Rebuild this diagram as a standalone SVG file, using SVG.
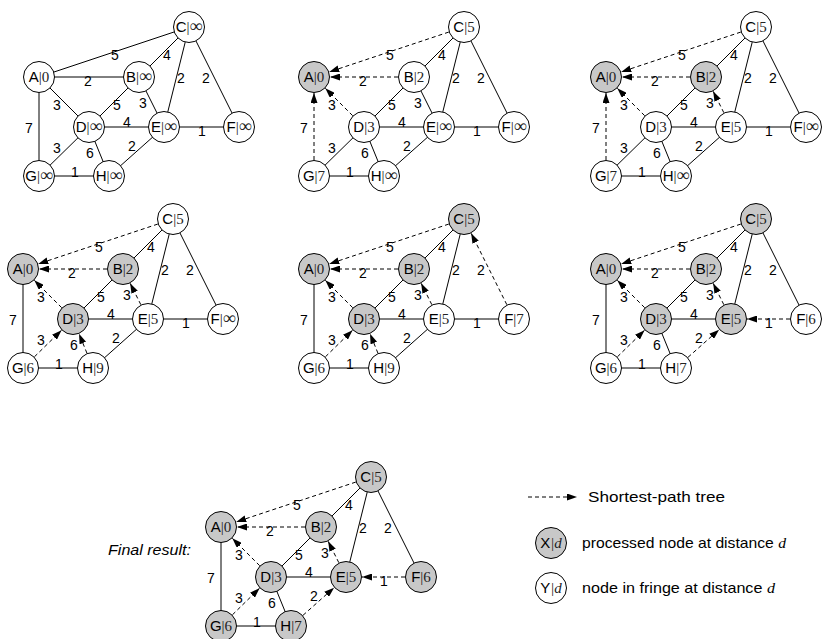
<svg xmlns="http://www.w3.org/2000/svg" width="823" height="639" viewBox="0 0 823 639">
<defs>
<marker id="ah" markerUnits="userSpaceOnUse" markerWidth="10" markerHeight="7" refX="10" refY="3.5" orient="auto"><path d="M0,0 L10,3.5 L0,7 z" fill="#000"/></marker>
<style>
.e{stroke:#000;stroke-width:1;fill:none}
.t{stroke:#000;stroke-width:1;fill:none;stroke-dasharray:4 3;marker-end:url(#ah)}
.n circle{stroke:#000;stroke-width:1;fill:#fff}
.p circle{fill:#c8c8c8}
.n text{font-family:"Liberation Sans",Arial,sans-serif;font-size:15px;text-anchor:middle;fill:#000}
.v{font-family:"Liberation Serif","DejaVu Serif",serif;fill:#222}
.inf{font-size:18px}
.w{font-family:"Liberation Sans",Arial,sans-serif;font-size:14px;text-anchor:middle;fill:#000}
.lg{font-family:"Liberation Sans",Arial,sans-serif;font-size:15px;fill:#000}
.mi{font-family:"Liberation Serif","DejaVu Serif",serif;font-style:italic}
</style>
</defs>
<rect width="823" height="639" fill="#fff"/>

<!-- Step 1 -->
<g id="step1" transform="translate(0,0)">
<g id="s1-connectors">
<path class="e" d="M39,77L189,27 M39,77L139,77 M189,27L139,77 M189,27L164,127 M189,27L239,127 M39,77L89,127 M139,77L89,127 M139,77L164,127 M39,77L39,176 M89,127L164,127 M164,127L239,127 M89,127L39,176 M89,127L109,176 M164,127L109,176 M39,176L109,176"/>
<text class="w" x="115" y="60">5</text><text class="w" x="88" y="86">2</text><text class="w" x="167" y="60">4</text><text class="w" x="181" y="83">2</text><text class="w" x="206" y="83">2</text><text class="w" x="57" y="110">3</text><text class="w" x="117" y="110">5</text><text class="w" x="143" y="108">3</text><text class="w" x="29" y="133">7</text><text class="w" x="127" y="127">4</text><text class="w" x="202" y="136">1</text><text class="w" x="57" y="153">3</text><text class="w" x="90" y="158">6</text><text class="w" x="132" y="151">2</text><text class="w" x="75" y="177">1</text>
</g>
<g id="s1-A" class="n"><circle cx="39" cy="77" r="15.5"/><text x="39" y="82">A<tspan class="v">|0</tspan></text></g>
<g id="s1-B" class="n"><circle cx="139" cy="77" r="15.5"/><text x="139" y="82">B<tspan class="v">|<tspan class="inf">∞</tspan></tspan></text></g>
<g id="s1-C" class="n"><circle cx="189" cy="27" r="15.5"/><text x="189" y="32">C<tspan class="v">|<tspan class="inf">∞</tspan></tspan></text></g>
<g id="s1-D" class="n"><circle cx="89" cy="127" r="15.5"/><text x="89" y="132">D<tspan class="v">|<tspan class="inf">∞</tspan></tspan></text></g>
<g id="s1-E" class="n"><circle cx="164" cy="127" r="15.5"/><text x="164" y="132">E<tspan class="v">|<tspan class="inf">∞</tspan></tspan></text></g>
<g id="s1-F" class="n"><circle cx="239" cy="127" r="15.5"/><text x="239" y="132">F<tspan class="v">|<tspan class="inf">∞</tspan></tspan></text></g>
<g id="s1-G" class="n"><circle cx="39" cy="176" r="15.5"/><text x="39" y="181">G<tspan class="v">|<tspan class="inf">∞</tspan></tspan></text></g>
<g id="s1-H" class="n"><circle cx="109" cy="176" r="15.5"/><text x="109" y="181">H<tspan class="v">|<tspan class="inf">∞</tspan></tspan></text></g>
</g>

<!-- Step 2 -->
<g id="step2" transform="translate(275,0)">
<g id="s2-connectors">
<path class="e" d="M189,27L139,77 M189,27L164,127 M189,27L239,127 M139,77L89,127 M139,77L164,127 M89,127L164,127 M164,127L239,127 M89,127L39,176 M89,127L109,176 M164,127L109,176 M39,176L109,176"/>
<path class="t" d="M173.82,32.06L54.18,71.94"/><path class="t" d="M123,77L55,77"/><path class="t" d="M77.69,115.69L50.31,88.31"/><path class="t" d="M39,160L39,93"/>
<text class="w" x="115" y="60">5</text><text class="w" x="88" y="86">2</text><text class="w" x="167" y="60">4</text><text class="w" x="181" y="83">2</text><text class="w" x="206" y="83">2</text><text class="w" x="57" y="110">3</text><text class="w" x="117" y="110">5</text><text class="w" x="143" y="108">3</text><text class="w" x="29" y="133">7</text><text class="w" x="127" y="127">4</text><text class="w" x="202" y="136">1</text><text class="w" x="57" y="153">3</text><text class="w" x="90" y="158">6</text><text class="w" x="132" y="151">2</text><text class="w" x="75" y="177">1</text>
</g>
<g id="s2-A" class="n p"><circle cx="39" cy="77" r="15.5"/><text x="39" y="82">A<tspan class="v">|0</tspan></text></g>
<g id="s2-B" class="n"><circle cx="139" cy="77" r="15.5"/><text x="139" y="82">B<tspan class="v">|2</tspan></text></g>
<g id="s2-C" class="n"><circle cx="189" cy="27" r="15.5"/><text x="189" y="32">C<tspan class="v">|5</tspan></text></g>
<g id="s2-D" class="n"><circle cx="89" cy="127" r="15.5"/><text x="89" y="132">D<tspan class="v">|3</tspan></text></g>
<g id="s2-E" class="n"><circle cx="164" cy="127" r="15.5"/><text x="164" y="132">E<tspan class="v">|<tspan class="inf">∞</tspan></tspan></text></g>
<g id="s2-F" class="n"><circle cx="239" cy="127" r="15.5"/><text x="239" y="132">F<tspan class="v">|<tspan class="inf">∞</tspan></tspan></text></g>
<g id="s2-G" class="n"><circle cx="39" cy="176" r="15.5"/><text x="39" y="181">G<tspan class="v">|7</tspan></text></g>
<g id="s2-H" class="n"><circle cx="109" cy="176" r="15.5"/><text x="109" y="181">H<tspan class="v">|<tspan class="inf">∞</tspan></tspan></text></g>
</g>

<!-- Step 3 -->
<g id="step3" transform="translate(567,0)">
<g id="s3-connectors">
<path class="e" d="M189,27L139,77 M189,27L164,127 M189,27L239,127 M139,77L89,127 M89,127L164,127 M164,127L239,127 M89,127L39,176 M89,127L109,176 M164,127L109,176 M39,176L109,176"/>
<path class="t" d="M173.82,32.06L54.18,71.94"/><path class="t" d="M123,77L55,77"/><path class="t" d="M77.69,115.69L50.31,88.31"/><path class="t" d="M39,160L39,93"/><path class="t" d="M156.84,112.69L146.16,91.31"/>
<text class="w" x="115" y="60">5</text><text class="w" x="88" y="86">2</text><text class="w" x="167" y="60">4</text><text class="w" x="181" y="83">2</text><text class="w" x="206" y="83">2</text><text class="w" x="57" y="110">3</text><text class="w" x="117" y="110">5</text><text class="w" x="143" y="108">3</text><text class="w" x="29" y="133">7</text><text class="w" x="127" y="127">4</text><text class="w" x="202" y="136">1</text><text class="w" x="57" y="153">3</text><text class="w" x="90" y="158">6</text><text class="w" x="132" y="151">2</text><text class="w" x="75" y="177">1</text>
</g>
<g id="s3-A" class="n p"><circle cx="39" cy="77" r="15.5"/><text x="39" y="82">A<tspan class="v">|0</tspan></text></g>
<g id="s3-B" class="n p"><circle cx="139" cy="77" r="15.5"/><text x="139" y="82">B<tspan class="v">|2</tspan></text></g>
<g id="s3-C" class="n"><circle cx="189" cy="27" r="15.5"/><text x="189" y="32">C<tspan class="v">|5</tspan></text></g>
<g id="s3-D" class="n"><circle cx="89" cy="127" r="15.5"/><text x="89" y="132">D<tspan class="v">|3</tspan></text></g>
<g id="s3-E" class="n"><circle cx="164" cy="127" r="15.5"/><text x="164" y="132">E<tspan class="v">|5</tspan></text></g>
<g id="s3-F" class="n"><circle cx="239" cy="127" r="15.5"/><text x="239" y="132">F<tspan class="v">|<tspan class="inf">∞</tspan></tspan></text></g>
<g id="s3-G" class="n"><circle cx="39" cy="176" r="15.5"/><text x="39" y="181">G<tspan class="v">|7</tspan></text></g>
<g id="s3-H" class="n"><circle cx="109" cy="176" r="15.5"/><text x="109" y="181">H<tspan class="v">|<tspan class="inf">∞</tspan></tspan></text></g>
</g>

<!-- Step 4 -->
<g id="step4" transform="translate(-16,192)">
<g id="s4-connectors">
<path class="e" d="M189,27L139,77 M189,27L164,127 M189,27L239,127 M139,77L89,127 M39,77L39,176 M89,127L164,127 M164,127L239,127 M164,127L109,176 M39,176L109,176"/>
<path class="t" d="M173.82,32.06L54.18,71.94"/><path class="t" d="M123,77L55,77"/><path class="t" d="M77.69,115.69L50.31,88.31"/><path class="t" d="M156.84,112.69L146.16,91.31"/><path class="t" d="M50.43,164.8L77.57,138.2"/><path class="t" d="M102.95,161.19L95.05,141.81"/>
<text class="w" x="115" y="60">5</text><text class="w" x="88" y="86">2</text><text class="w" x="167" y="60">4</text><text class="w" x="181" y="83">2</text><text class="w" x="206" y="83">2</text><text class="w" x="57" y="110">3</text><text class="w" x="117" y="110">5</text><text class="w" x="143" y="108">3</text><text class="w" x="29" y="133">7</text><text class="w" x="127" y="127">4</text><text class="w" x="202" y="136">1</text><text class="w" x="57" y="153">3</text><text class="w" x="90" y="158">6</text><text class="w" x="132" y="151">2</text><text class="w" x="75" y="177">1</text>
</g>
<g id="s4-A" class="n p"><circle cx="39" cy="77" r="15.5"/><text x="39" y="82">A<tspan class="v">|0</tspan></text></g>
<g id="s4-B" class="n p"><circle cx="139" cy="77" r="15.5"/><text x="139" y="82">B<tspan class="v">|2</tspan></text></g>
<g id="s4-C" class="n"><circle cx="189" cy="27" r="15.5"/><text x="189" y="32">C<tspan class="v">|5</tspan></text></g>
<g id="s4-D" class="n p"><circle cx="89" cy="127" r="15.5"/><text x="89" y="132">D<tspan class="v">|3</tspan></text></g>
<g id="s4-E" class="n"><circle cx="164" cy="127" r="15.5"/><text x="164" y="132">E<tspan class="v">|5</tspan></text></g>
<g id="s4-F" class="n"><circle cx="239" cy="127" r="15.5"/><text x="239" y="132">F<tspan class="v">|<tspan class="inf">∞</tspan></tspan></text></g>
<g id="s4-G" class="n"><circle cx="39" cy="176" r="15.5"/><text x="39" y="181">G<tspan class="v">|6</tspan></text></g>
<g id="s4-H" class="n"><circle cx="109" cy="176" r="15.5"/><text x="109" y="181">H<tspan class="v">|9</tspan></text></g>
</g>

<!-- Step 5 -->
<g id="step5" transform="translate(275,192)">
<g id="s5-connectors">
<path class="e" d="M189,27L139,77 M189,27L164,127 M139,77L89,127 M39,77L39,176 M89,127L164,127 M164,127L239,127 M164,127L109,176 M39,176L109,176"/>
<path class="t" d="M173.82,32.06L54.18,71.94"/><path class="t" d="M123,77L55,77"/><path class="t" d="M77.69,115.69L50.31,88.31"/><path class="t" d="M156.84,112.69L146.16,91.31"/><path class="t" d="M50.43,164.8L77.57,138.2"/><path class="t" d="M102.95,161.19L95.05,141.81"/><path class="t" d="M231.84,112.69L196.16,41.31"/>
<text class="w" x="115" y="60">5</text><text class="w" x="88" y="86">2</text><text class="w" x="167" y="60">4</text><text class="w" x="181" y="83">2</text><text class="w" x="206" y="83">2</text><text class="w" x="57" y="110">3</text><text class="w" x="117" y="110">5</text><text class="w" x="143" y="108">3</text><text class="w" x="29" y="133">7</text><text class="w" x="127" y="127">4</text><text class="w" x="202" y="136">1</text><text class="w" x="57" y="153">3</text><text class="w" x="90" y="158">6</text><text class="w" x="132" y="151">2</text><text class="w" x="75" y="177">1</text>
</g>
<g id="s5-A" class="n p"><circle cx="39" cy="77" r="15.5"/><text x="39" y="82">A<tspan class="v">|0</tspan></text></g>
<g id="s5-B" class="n p"><circle cx="139" cy="77" r="15.5"/><text x="139" y="82">B<tspan class="v">|2</tspan></text></g>
<g id="s5-C" class="n p"><circle cx="189" cy="27" r="15.5"/><text x="189" y="32">C<tspan class="v">|5</tspan></text></g>
<g id="s5-D" class="n p"><circle cx="89" cy="127" r="15.5"/><text x="89" y="132">D<tspan class="v">|3</tspan></text></g>
<g id="s5-E" class="n"><circle cx="164" cy="127" r="15.5"/><text x="164" y="132">E<tspan class="v">|5</tspan></text></g>
<g id="s5-F" class="n"><circle cx="239" cy="127" r="15.5"/><text x="239" y="132">F<tspan class="v">|7</tspan></text></g>
<g id="s5-G" class="n"><circle cx="39" cy="176" r="15.5"/><text x="39" y="181">G<tspan class="v">|6</tspan></text></g>
<g id="s5-H" class="n"><circle cx="109" cy="176" r="15.5"/><text x="109" y="181">H<tspan class="v">|9</tspan></text></g>
</g>

<!-- Step 6 -->
<g id="step6" transform="translate(567,192)">
<g id="s6-connectors">
<path class="e" d="M189,27L139,77 M189,27L164,127 M189,27L239,127 M139,77L89,127 M39,77L39,176 M89,127L164,127 M89,127L109,176 M39,176L109,176"/>
<path class="t" d="M173.82,32.06L54.18,71.94"/><path class="t" d="M123,77L55,77"/><path class="t" d="M77.69,115.69L50.31,88.31"/><path class="t" d="M156.84,112.69L146.16,91.31"/><path class="t" d="M50.43,164.8L77.57,138.2"/><path class="t" d="M120.95,165.36L152.05,137.64"/><path class="t" d="M223,127L180,127"/>
<text class="w" x="115" y="60">5</text><text class="w" x="88" y="86">2</text><text class="w" x="167" y="60">4</text><text class="w" x="181" y="83">2</text><text class="w" x="206" y="83">2</text><text class="w" x="57" y="110">3</text><text class="w" x="117" y="110">5</text><text class="w" x="143" y="108">3</text><text class="w" x="29" y="133">7</text><text class="w" x="127" y="127">4</text><text class="w" x="202" y="136">1</text><text class="w" x="57" y="153">3</text><text class="w" x="90" y="158">6</text><text class="w" x="132" y="151">2</text><text class="w" x="75" y="177">1</text>
</g>
<g id="s6-A" class="n p"><circle cx="39" cy="77" r="15.5"/><text x="39" y="82">A<tspan class="v">|0</tspan></text></g>
<g id="s6-B" class="n p"><circle cx="139" cy="77" r="15.5"/><text x="139" y="82">B<tspan class="v">|2</tspan></text></g>
<g id="s6-C" class="n p"><circle cx="189" cy="27" r="15.5"/><text x="189" y="32">C<tspan class="v">|5</tspan></text></g>
<g id="s6-D" class="n p"><circle cx="89" cy="127" r="15.5"/><text x="89" y="132">D<tspan class="v">|3</tspan></text></g>
<g id="s6-E" class="n p"><circle cx="164" cy="127" r="15.5"/><text x="164" y="132">E<tspan class="v">|5</tspan></text></g>
<g id="s6-F" class="n"><circle cx="239" cy="127" r="15.5"/><text x="239" y="132">F<tspan class="v">|6</tspan></text></g>
<g id="s6-G" class="n"><circle cx="39" cy="176" r="15.5"/><text x="39" y="181">G<tspan class="v">|6</tspan></text></g>
<g id="s6-H" class="n"><circle cx="109" cy="176" r="15.5"/><text x="109" y="181">H<tspan class="v">|7</tspan></text></g>
</g>

<!-- Final result -->
<text class="lg" x="108" y="555" font-style="italic" textLength="83" lengthAdjust="spacingAndGlyphs">Final result:</text>
<g id="final" transform="translate(182,450)">
<g id="f-connectors">
<path class="e" d="M189,27L139,77 M189,27L164,127 M189,27L239,127 M139,77L89,127 M39,77L39,176 M89,127L164,127 M89,127L109,176 M39,176L109,176"/>
<path class="t" d="M173.82,32.06L54.18,71.94"/><path class="t" d="M123,77L55,77"/><path class="t" d="M77.69,115.69L50.31,88.31"/><path class="t" d="M156.84,112.69L146.16,91.31"/><path class="t" d="M50.43,164.8L77.57,138.2"/><path class="t" d="M120.95,165.36L152.05,137.64"/><path class="t" d="M223,127L180,127"/>
<text class="w" x="115" y="60">5</text><text class="w" x="88" y="86">2</text><text class="w" x="167" y="60">4</text><text class="w" x="181" y="83">2</text><text class="w" x="206" y="83">2</text><text class="w" x="57" y="110">3</text><text class="w" x="117" y="110">5</text><text class="w" x="143" y="108">3</text><text class="w" x="29" y="133">7</text><text class="w" x="127" y="127">4</text><text class="w" x="202" y="136">1</text><text class="w" x="57" y="153">3</text><text class="w" x="90" y="158">6</text><text class="w" x="132" y="151">2</text><text class="w" x="75" y="177">1</text>
</g>
<g id="f-A" class="n p"><circle cx="39" cy="77" r="15.5"/><text x="39" y="82">A<tspan class="v">|0</tspan></text></g>
<g id="f-B" class="n p"><circle cx="139" cy="77" r="15.5"/><text x="139" y="82">B<tspan class="v">|2</tspan></text></g>
<g id="f-C" class="n p"><circle cx="189" cy="27" r="15.5"/><text x="189" y="32">C<tspan class="v">|5</tspan></text></g>
<g id="f-D" class="n p"><circle cx="89" cy="127" r="15.5"/><text x="89" y="132">D<tspan class="v">|3</tspan></text></g>
<g id="f-E" class="n p"><circle cx="164" cy="127" r="15.5"/><text x="164" y="132">E<tspan class="v">|5</tspan></text></g>
<g id="f-F" class="n p"><circle cx="239" cy="127" r="15.5"/><text x="239" y="132">F<tspan class="v">|6</tspan></text></g>
<g id="f-G" class="n p"><circle cx="39" cy="176" r="15.5"/><text x="39" y="181">G<tspan class="v">|6</tspan></text></g>
<g id="f-H" class="n p"><circle cx="109" cy="176" r="15.5"/><text x="109" y="181">H<tspan class="v">|7</tspan></text></g>
</g>

<!-- Legend -->
<g id="legend">
<path class="t" d="M528,497L577,497"/>
<text class="lg" x="588" y="502" textLength="137" lengthAdjust="spacingAndGlyphs">Shortest-path tree</text>
<g id="leg-X" class="n p"><circle cx="551" cy="543" r="15.5"/><text x="551" y="548">X<tspan class="v mi">|d</tspan></text></g>
<text class="lg" x="582" y="548" textLength="204" lengthAdjust="spacingAndGlyphs">processed node at distance <tspan class="mi">d</tspan></text>
<g id="leg-Y" class="n"><circle cx="551" cy="588" r="15.5"/><text x="551" y="593">Y<tspan class="v mi">|d</tspan></text></g>
<text class="lg" x="582" y="593" textLength="193" lengthAdjust="spacingAndGlyphs">node in fringe at distance <tspan class="mi">d</tspan></text>
</g>
</svg>
